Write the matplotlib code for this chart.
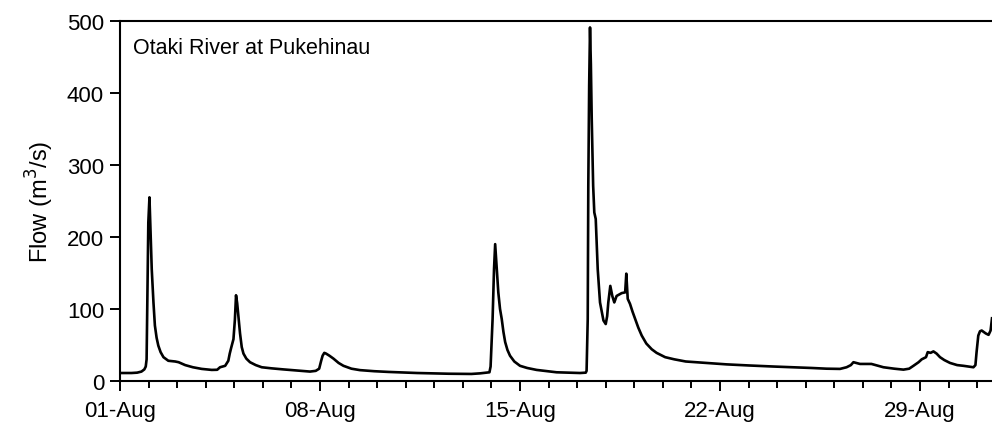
import numpy as np
import pandas as pd
import matplotlib
matplotlib.use("Agg")
import matplotlib.pyplot as plt
import matplotlib.dates as mdates

# --- Data: flow record (m3/s), time in days after 01-Aug 00:00 ---
days = [0.0, 0.4, 0.6, 0.75, 0.85, 0.9, 0.93, 0.96, 0.99, 1.03,
        1.07, 1.11, 1.17, 1.22, 1.28, 1.34, 1.42, 1.52, 1.69, 1.93, 2.05,
        2.28, 2.55, 2.86, 3.21, 3.4, 3.5, 3.68, 3.79, 3.84, 3.89, 3.97, 4.02,
        4.06, 4.1, 4.14, 4.2, 4.26, 4.32, 4.42, 4.55, 4.75, 4.96, 5.3, 5.72,
        6.2, 6.65, 6.85, 6.97, 7.04, 7.09, 7.15, 7.21, 7.33, 7.47, 7.65, 7.82,
        8.1, 8.4, 8.9, 9.4, 10.4, 11.5, 12.3, 12.6, 12.93, 12.97, 13.04, 13.09,
        13.13, 13.18, 13.24, 13.3, 13.36, 13.42, 13.48, 13.56, 13.65, 13.8,
        14.0, 14.25, 14.58, 15.28, 16.1, 16.3, 16.33, 16.37, 16.39, 16.42,
        16.45, 16.48, 16.51, 16.56, 16.6, 16.65, 16.72, 16.8, 16.92, 17.0,
        17.05, 17.09, 17.16, 17.23, 17.3, 17.38, 17.56, 17.68, 17.72, 17.77,
        17.85, 17.94, 18.03, 18.14, 18.26, 18.42, 18.61, 18.78, 19.08, 19.4,
        19.8, 20.5, 21.23, 22.0, 22.87, 23.57, 24.2, 24.73, 25.2, 25.43,
        25.58, 25.67, 25.9, 26.3, 26.72, 27.1, 27.42, 27.62, 27.77, 27.95,
        28.06, 28.21, 28.27, 28.37, 28.47, 28.58, 28.7, 28.85, 29.05, 29.3,
        29.52, 29.87, 29.94, 29.98, 30.04, 30.1, 30.16, 30.3, 30.4, 30.47,
        30.52]
flow = [11, 11, 11.5, 13, 16, 20, 30, 120, 220, 255,
        205, 155, 109, 77, 60, 49, 40, 33, 28, 27, 26,
        22, 19, 16.7, 15.3, 15.5, 19, 21, 28, 38, 46, 58, 85,
        119, 108, 91, 66, 47, 38, 31, 26, 22, 19, 17.5, 16,
        14.5, 13, 14, 17, 28, 35, 39, 38, 35, 31, 25, 21,
        17, 15, 13.5, 12.5, 11, 10, 9.7, 10.5, 12, 20, 86, 155,
        190, 160, 123, 100, 86, 68, 54, 43, 35, 27,
        21, 18, 15.3, 12, 11, 11.5, 14, 86, 271, 410,
        491, 440, 364, 271, 234, 225, 155, 109, 84, 79,
        90, 109, 132, 118, 109, 118, 122, 123, 149, 114,
        107, 96, 86, 74, 63, 52, 44, 39, 33, 30,
        27, 25, 23, 21.5, 20, 19, 18, 17, 16.7, 19,
        22, 26, 23.6, 23.6, 19, 17, 15.7, 17, 21, 26,
        30, 33, 40, 39, 41, 38, 33, 29, 25, 22,
        21, 19, 22, 40, 63, 69, 70, 66, 64, 70,
        87]

start = pd.Timestamp("2000-08-01")
times = start + pd.to_timedelta(days, unit="D")

y_ticks = [0, 100, 200, 300, 400, 500]
site_name = "Otaki River at Pukehinau"

# --- Plot ---
plt.rcParams['font.family'] = ['Liberation Sans', 'DejaVu Sans']

fig = plt.figure(figsize=(9.92, 4.39), dpi=100)
ax = fig.add_axes([0.121, 0.13, 0.879, 0.82])

ax.plot(times, flow, color='black', linewidth=1.9, solid_joinstyle='round')

ax.set_ylim(0, 500)
ax.set_xlim(start, start + pd.Timedelta(days=30.52))
ax.set_yticks(y_ticks)

ax.xaxis.set_major_locator(mdates.DayLocator(bymonthday=[1, 8, 15, 22, 29]))
ax.xaxis.set_major_formatter(mdates.DateFormatter('%d-%b'))
ax.xaxis.set_minor_locator(mdates.DayLocator())

ax.tick_params(axis='both', which='major', labelsize=16, direction='out',
               length=7.5, width=1.4, colors='black')
ax.tick_params(axis='x', which='minor', direction='out', length=5, width=1.4)
ax.tick_params(axis='x', which='major', pad=6)
ax.tick_params(axis='y', which='major', pad=4)

for side in ['left', 'bottom', 'top']:
    ax.spines[side].set_linewidth(1.5)
ax.spines['right'].set_visible(False)

ax.set_ylabel("Flow (m$^3$/s)", fontsize=17, labelpad=8)
ax.text(0.015, 0.955, site_name, transform=ax.transAxes, fontsize=15.5,
        ha='left', va='top')

fig.savefig("out.png", dpi=100)
